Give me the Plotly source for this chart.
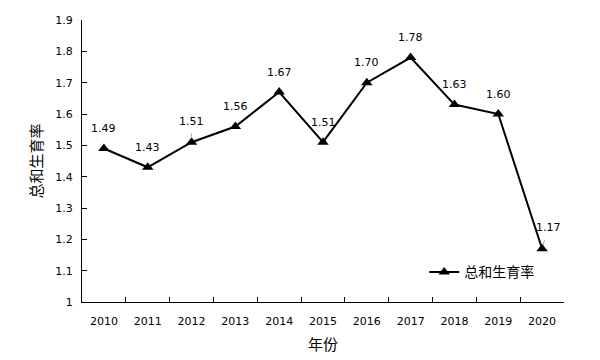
import plotly.graph_objects as go

years = ["2010", "2011", "2012", "2013", "2014", "2015", "2016", "2017", "2018", "2019", "2020"]
tfr = [1.49, 1.43, 1.51, 1.56, 1.67, 1.51, 1.70, 1.78, 1.63, 1.60, 1.17]
labels = ["1.49", "1.43", "1.51", "1.56", "1.67", "1.51", "1.70", "1.78", "1.63", "1.60", "1.17"]
series_name = "总和生育率"

cjk = "Noto Sans CJK SC"
num_font = "DejaVu Sans"

fig = go.Figure()
fig.add_trace(go.Scatter(
    x=years, y=tfr, mode="lines+markers", name=series_name,
    line=dict(color="black", width=2),
    marker=dict(symbol="triangle-up", size=10, color="black"),
))

# label offsets (pixels): (dx, dy_up, leader line?)
offsets = {
    "2012": (0, 21, True),
    "2020": (6, 21, True),
}
for i, (yr, v, lab) in enumerate(zip(years, tfr, labels)):
    dx, dy, leader = offsets.get(yr, (0, 20, False))
    if leader:
        fig.add_annotation(x=i, y=v, text="", showarrow=True, arrowhead=0,
                           arrowwidth=1, arrowcolor="#aaaaaa",
                           ax=dx * 0.5, ay=-dy * 0.5, standoff=4, xref="x", yref="y")
    fig.add_annotation(x=i, y=v, text=lab, showarrow=False,
                       xshift=dx, yshift=dy,
                       font=dict(family=num_font, size=11, color="black"))

# page body has an 8px default margin, so margins are shifted by 8px
fig.update_layout(
    width=600, height=360,
    margin=dict(l=74, r=44, t=12, b=66),
    paper_bgcolor="white", plot_bgcolor="white",
    showlegend=True,
    legend=dict(x=0.71, y=0.105, xanchor="left", yanchor="middle",
                font=dict(family=cjk, size=14, color="black"),
                bgcolor="rgba(0,0,0,0)", itemwidth=30),
    font=dict(family=num_font, size=11, color="black"),
)
fig.update_xaxes(
    type="category", range=[-0.5, len(years) - 0.5], tickson="boundaries",
    ticks="inside", ticklen=5, automargin=False, ticklabelstandoff=9,
    tickcolor="black", showline=True, linecolor="black", linewidth=1,
    showgrid=False, zeroline=False, tickangle=0,
    tickfont=dict(family=num_font, size=11, color="black"),
    title=dict(text="年份", font=dict(family=cjk, size=15, color="black"), standoff=12),
)
fig.update_yaxes(
    range=[1, 1.9], dtick=0.1, tick0=1, ticks="inside", ticklen=5, automargin=False,
    ticklabelstandoff=6,
    tickcolor="black", showline=True, linecolor="black", linewidth=1,
    showgrid=False, zeroline=False,
    tickfont=dict(family=num_font, size=11, color="black"),
    title=dict(text="总和生育率", font=dict(family=cjk, size=15, color="black"), standoff=9),
)

fig.write_html("out.html")
